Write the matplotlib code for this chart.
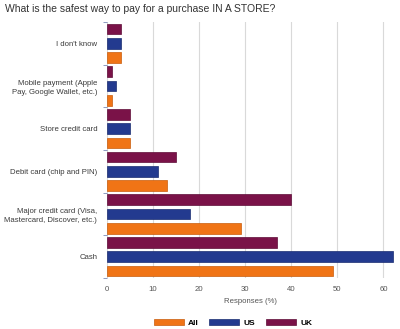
import matplotlib.pyplot as plt
import numpy as np

# datos
categorias = ["I don't know", "Mobile payment (Apple\nPay, Google Wallet, etc.)",
              "Store credit card", "Debit card (chip and PIN)",
              "Major credit card (Visa,\nMastercard, Discover, etc.)", "Cash"]
todos = [3, 1, 5, 13, 29, 49]
us = [3, 2, 5, 11, 18, 62]
uk = [3, 1, 5, 15, 40, 37]

naranja = "#F07416"
azul = "#233A8F"
granate = "#7A1248"

plt.rcParams["font.family"] = ["Liberation Sans", "DejaVu Sans"]

fig = plt.figure(figsize=(4, 3.29), dpi=100)
ax = fig.add_axes([0.2675, 0.155, 0.72, 0.778])

# posiciones: la primera categoria arriba
n = len(categorias)
y = np.arange(n)[::-1]
alto = 0.25
paso = 1 / 3

ax.barh(y - paso, todos, height=alto, color=naranja, edgecolor="#c85c0c", linewidth=0.5, label="All")
ax.barh(y, us, height=alto, color=azul, edgecolor="#1a2c70", linewidth=0.5, label="US")
ax.barh(y + paso, uk, height=alto, color=granate, edgecolor="#5e0c37", linewidth=0.5, label="UK")

ax.set_xlim(0, 62.5)
ax.set_ylim(-0.5, n - 0.5)
ax.set_xticks([0, 10, 20, 30, 40, 50, 60])
ax.set_yticks(y)
ax.set_yticklabels(categorias, fontsize=5.6, color="#3a3a3a", linespacing=1.3)
ax.set_yticks(np.arange(-0.5, n, 1), minor=True)
ax.tick_params(axis="y", which="major", length=0, pad=7)
ax.tick_params(axis="y", which="minor", length=3, color="#7a8ab8", width=0.6)
ax.tick_params(axis="x", length=0, labelsize=5.6, labelcolor="#555555", pad=6)

ax.grid(axis="x", color="#d9d9d9", linewidth=0.8)
ax.set_axisbelow(True)
for lado in ["top", "right", "bottom", "left"]:
    ax.spines[lado].set_visible(False)

ax.set_xlabel("Responses (%)", fontsize=5.6, color="#555555", labelpad=3)

fig.text(0.0125, 0.972, "What is the safest way to pay for a purchase IN A STORE?",
         fontsize=7.5, color="#333333", ha="left", va="center")

fig.legend(handles=ax.get_legend_handles_labels()[0], loc="center",
           bbox_to_anchor=(233 / 400, 1 - 323 / 329), ncol=3, frameon=False,
           prop={"size": 6, "weight": "bold"}, handlelength=3.6, handleheight=0.8,
           columnspacing=1.3, handletextpad=0.5)

fig.savefig("out.png", dpi=100)
